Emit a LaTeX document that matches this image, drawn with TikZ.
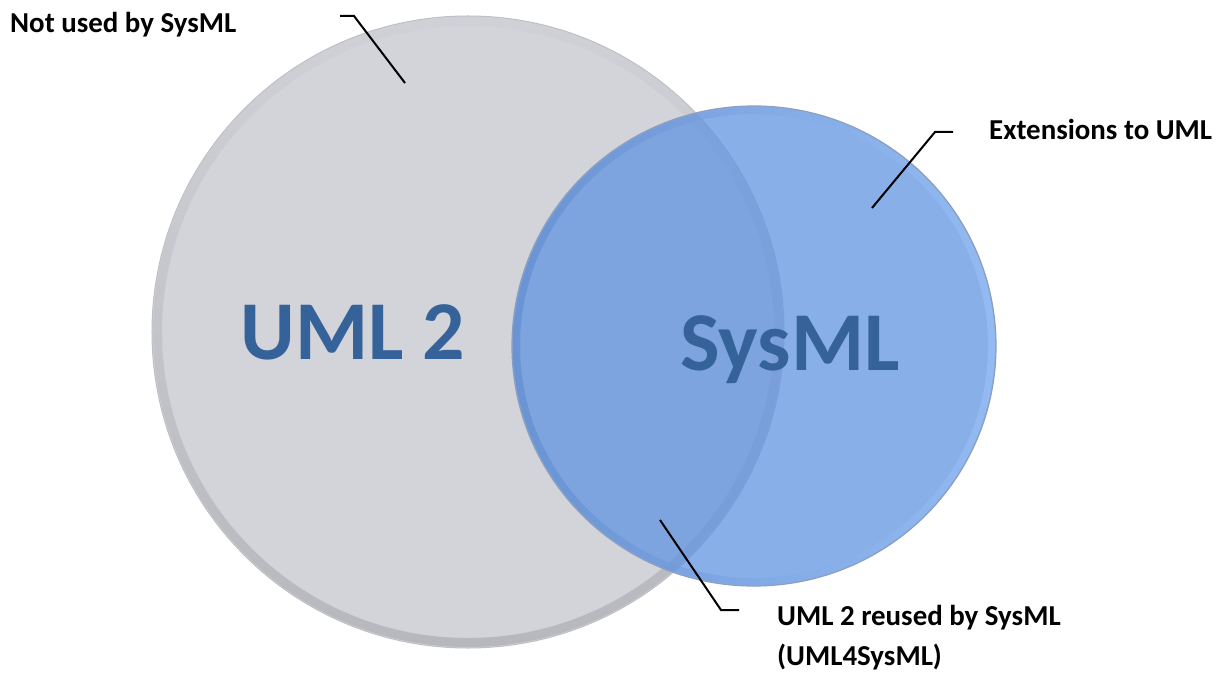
\documentclass[tikz,border=0pt]{standalone}
\usepackage{fontspec}
\setmainfont{Carlito}
\definecolor{greyfill}{HTML}{D3D4DA}
\definecolor{greyrimdark}{HTML}{B7B8BE}
\definecolor{greyrimlight}{HTML}{D0D1D7}
\definecolor{greyedge}{HTML}{BEBFC6}
\definecolor{bluebase}{HTML}{6294E2}
\definecolor{bluedark}{HTML}{5A86CC}
\definecolor{bluelight}{HTML}{9CC4F8}
\definecolor{blueedge}{HTML}{8A9FC0}
\definecolor{titleblue}{HTML}{36629A}
\tikzset{
  label/.style={font=\fontsize{29}{40}\selectfont\bfseries, text=black, inner sep=0pt, align=left},
  bigtitle/.style={font=\fontsize{84}{90}\selectfont\bfseries, text=titleblue, inner sep=0pt},
  leader/.style={draw=black, line width=2bp}
}
\begin{document}
\begin{tikzpicture}[x=1bp,y=-1bp]
\useasboundingbox (0,0) rectangle (1224,673);
% grey circle (UML 2)
\coordinate (gc) at (468,332);
\fill[greyfill] (gc) circle[radius=316bp];
\shade[top color=greyrimlight, bottom color=greyrimdark, even odd rule]
  (gc) circle[radius=315bp] (gc) circle[radius=306bp];
\draw[greyedge, line width=1bp] (gc) circle[radius=316bp];
% blue circle (SysML)
\coordinate (bc) at (754,346);
\fill[bluebase, opacity=0.75] (bc) ellipse[x radius=242bp, y radius=240bp];
\shade[left color=bluedark, right color=bluelight, opacity=0.55, even odd rule]
  (bc) ellipse[x radius=241bp, y radius=239bp]
  (bc) ellipse[x radius=234bp, y radius=232bp];
\draw[blueedge, line width=1.2bp] (bc) ellipse[x radius=242bp, y radius=240bp];
% titles
\node[bigtitle, anchor=base] (uml) at (353,359) {UML 2};
\node[bigtitle, anchor=base] (sysml) at (790,370) {SysML};
% labels
\node[label, anchor=base west] (notused) at (10,33) {Not used by SysML};
\node[label, anchor=base west] (ext) at (989,140) {Extensions to UML};
\node[label, anchor=base west] (reused) at (777,665) {UML 2 reused by SysML\\(UML4SysML)};
% leader lines
\coordinate (n1) at (340,16);
\coordinate (n2) at (354,16);
\coordinate (n3) at (405,83);
\draw[leader] (n1) -- (n2) -- (n3);
\coordinate (e1) at (953,132);
\coordinate (e2) at (935,132);
\coordinate (e3) at (872,208);
\draw[leader] (e1) -- (e2) -- (e3);
\coordinate (r1) at (660,520);
\coordinate (r2) at (721,610);
\coordinate (r3) at (739,610);
\draw[leader] (r1) -- (r2) -- (r3);
\end{tikzpicture}
\end{document}
